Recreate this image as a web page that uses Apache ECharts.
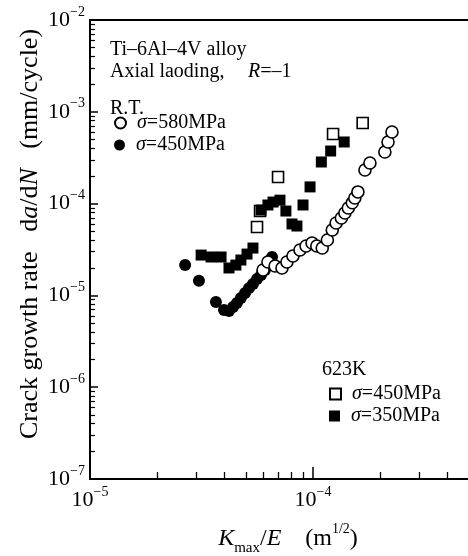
<!DOCTYPE html>
<html><head><meta charset="utf-8">
<script src="https://cdn.jsdelivr.net/npm/echarts@6/dist/echarts.min.js"></script>
<style>html,body{margin:0;padding:0;background:#fff}#c{width:468px;height:556px}</style>
</head><body><div id="c"></div>
<script>
const FONT = "'Liberation Serif','Times New Roman',serif";

// R.T., sigma = 580 MPa (open circles)
const rt580K = [5.97e-5, 6.28e-5, 6.76e-5, 7.26e-5, 7.64e-5, 8.13e-5, 8.74e-5, 9.31e-5, 9.90e-5, 1.04e-4, 1.10e-4, 1.16e-4, 1.22e-4, 1.27e-4, 1.34e-4, 1.39e-4, 1.44e-4, 1.50e-4, 1.54e-4, 1.59e-4, 1.71e-4, 1.80e-4, 2.10e-4, 2.17e-4, 2.26e-4];
const rt580Rate = [1.89e-5, 2.31e-5, 2.09e-5, 1.99e-5, 2.31e-5, 2.69e-5, 3.12e-5, 3.45e-5, 3.72e-5, 3.45e-5, 3.28e-5, 4.01e-5, 5.16e-5, 6.15e-5, 6.97e-5, 7.90e-5, 8.96e-5, 1.02e-4, 1.15e-4, 1.34e-4, 2.32e-4, 2.77e-4, 3.65e-4, 4.69e-4, 6.03e-4];

// R.T., sigma = 450 MPa (filled circles)
const rt450K = [2.67e-5, 3.08e-5, 3.67e-5, 3.99e-5, 4.20e-5, 4.38e-5, 4.56e-5, 4.75e-5, 4.96e-5, 5.16e-5, 5.38e-5, 5.61e-5, 5.85e-5, 6.09e-5, 6.55e-5];
const rt450Rate = [2.14e-5, 1.44e-5, 8.47e-6, 6.93e-6, 6.76e-6, 7.48e-6, 8.26e-6, 9.37e-6, 1.06e-5, 1.20e-5, 1.33e-5, 1.51e-5, 1.67e-5, 1.89e-5, 2.62e-5];

// 623K, sigma = 450 MPa (open squares)
const hot450K = [5.61e-5, 5.79e-5, 6.97e-5, 1.23e-4, 1.67e-4];
const hot450Rate = [5.56e-5, 8.30e-5, 1.95e-4, 5.73e-4, 7.55e-4];

// 623K, sigma = 350 MPa (filled squares)
const hot350K = [3.15e-5, 3.49e-5, 3.87e-5, 4.20e-5, 4.51e-5, 4.75e-5, 5.06e-5, 5.38e-5, 5.85e-5, 6.28e-5, 6.62e-5, 7.11e-5, 7.56e-5, 8.05e-5, 8.47e-5, 9.02e-5, 9.70e-5, 1.09e-4, 1.20e-4, 1.38e-4];
const hot350Rate = [2.75e-5, 2.62e-5, 2.62e-5, 1.99e-5, 2.14e-5, 2.43e-5, 2.82e-5, 3.28e-5, 8.51e-5, 9.66e-5, 1.04e-4, 1.09e-4, 8.30e-5, 6.00e-5, 5.70e-5, 9.66e-5, 1.52e-4, 2.84e-4, 3.74e-4, 4.69e-4];

const xMajor = [1e-5, 1e-4, 1e-3];
const yMajor = [1e-7, 1e-6, 1e-5, 1e-4, 1e-3, 1e-2];
const legendText = {
  rt580: '{i|σ}{n|=580MPa}',
  rt450: '{i|σ}{n|=450MPa}',
  hot450: '{i|σ}{n|=450MPa}',
  hot350: '{i|σ}{n|=350MPa}'
};

function minors(majors) {
  const out = [];
  for (let d = 0; d < majors.length - 1; d++)
    for (let m = 2; m <= 9; m++) out.push(m * majors[d]);
  return out;
}
const zip = (a, b) => a.map((v, i) => [v, b[i]]);
const expLabel = v => '{b|10}{e|−' + Math.abs(Math.round(Math.log10(v))) + '}';
const tickRich = {
  b: {fontFamily: FONT, fontSize: 22, color: '#000', lineHeight: 30},
  e: {fontFamily: FONT, fontSize: 14, color: '#000', verticalAlign: 'top', lineHeight: 16}
};
const txtRich = {
  n: {fontFamily: FONT, fontSize: 20, color: '#000'},
  i: {fontFamily: FONT, fontSize: 20, color: '#000', fontStyle: 'italic'}
};

const chart = echarts.init(document.getElementById('c'));
const open = {color: '#fff', borderColor: '#000', borderWidth: 1.6, opacity: 1};
const fill = {color: '#000', borderColor: '#000', borderWidth: 0, opacity: 1};

function legendAt(name, left, top) {
  return {
    data: [name], left: left, top: top, orient: 'vertical', padding: 0,
    itemWidth: 11, itemHeight: 11, selectedMode: false,
    formatter: n => legendText[n],
    textStyle: {fontFamily: FONT, fontSize: 20, color: '#000', padding: [0, 0, 0, 6], rich: txtRich}
  };
}

chart.setOption({
  backgroundColor: '#fff',
  animation: false,
  grid: {left: 90, top: 20, width: 446, height: 459, outerBoundsMode: 'none', containLabel: false,
         show: true, borderColor: '#000', borderWidth: 2, backgroundColor: 'transparent'},
  xAxis: [
    {type: 'log', logBase: 10, min: 1e-5, max: 1e-3, position: 'bottom',
     axisLine: {show: true, lineStyle: {color: '#000', width: 2}},
     axisTick: {show: true, inside: true, length: 12, customValues: xMajor, lineStyle: {color: '#000', width: 1.5}},
     axisLabel: {show: true, margin: 6, customValues: xMajor, formatter: expLabel, rich: tickRich},
     splitLine: {show: false}},
    {type: 'log', logBase: 10, min: 1e-5, max: 1e-3, position: 'bottom',
     axisLine: {show: false},
     axisTick: {show: true, inside: true, length: 7, customValues: minors(xMajor), lineStyle: {color: '#000', width: 1.3}},
     axisLabel: {show: false}, splitLine: {show: false}}
  ],
  yAxis: [
    {type: 'log', logBase: 10, min: 1e-7, max: 1e-2, position: 'left',
     axisLine: {show: true, lineStyle: {color: '#000', width: 2}},
     axisTick: {show: true, inside: true, length: 8, customValues: yMajor, lineStyle: {color: '#000', width: 1.5}},
     axisLabel: {show: true, margin: 5, customValues: yMajor, formatter: expLabel, rich: tickRich},
     splitLine: {show: false}},
    {type: 'log', logBase: 10, min: 1e-7, max: 1e-2, position: 'left',
     axisLine: {show: false},
     axisTick: {show: true, inside: true, length: 5, customValues: minors(yMajor), lineStyle: {color: '#000', width: 1.2}},
     axisLabel: {show: false}, splitLine: {show: false}}
  ],
  legend: [
    legendAt('rt580', 114, 113),
    legendAt('rt450', 114, 135),
    legendAt('hot450', 329, 384),
    legendAt('hot350', 329, 406)
  ],
  series: [
    {name: 'rt450', type: 'scatter', symbol: 'circle', symbolSize: 12, itemStyle: fill, data: zip(rt450K, rt450Rate)},
    {name: 'rt580', type: 'scatter', symbol: 'circle', symbolSize: 12, itemStyle: open, data: zip(rt580K, rt580Rate)},
    {name: 'hot450', type: 'scatter', symbol: 'rect', symbolSize: 11, itemStyle: open, data: zip(hot450K, hot450Rate)},
    {name: 'hot350', type: 'scatter', symbol: 'rect', symbolSize: 11, itemStyle: fill, data: zip(hot350K, hot350Rate)}
  ],
  graphic: [
    {type: 'text', left: 110, top: 40, style: {text: '{n|Ti–6Al–4V alloy}', rich: txtRich}},
    {type: 'text', left: 110, top: 62, style: {text: '{n|Axial laoding,}', rich: txtRich}},
    {type: 'text', left: 248, top: 62, style: {text: '{i|R}{n|=–1}', rich: txtRich}},
    {type: 'text', left: 110, top: 99, style: {text: '{n|R.T.}', rich: txtRich}},
    {type: 'text', left: 322, top: 360, style: {text: '{n|623K}', rich: txtRich}},
    {type: 'text', x: 30, y: 234, rotation: Math.PI / 2,
     style: {text: '{n|Crack growth rate   d}{i|a}{n|/d}{i|N}{n|   (mm/cycle)}', align: 'center', verticalAlign: 'middle',
       rich: {n: {fontFamily: FONT, fontSize: 26, color: '#000'}, i: {fontFamily: FONT, fontSize: 26, color: '#000', fontStyle: 'italic'}}}},
    {type: 'text', x: 288, y: 539,
     style: {text: '{i|K}{s|max}{n|/}{i|E}{n|    (m}{p|1/2}{n|)}', align: 'center', verticalAlign: 'middle',
       rich: {
         n: {fontFamily: FONT, fontSize: 24, color: '#000', lineHeight: 34},
         i: {fontFamily: FONT, fontSize: 24, color: '#000', fontStyle: 'italic', lineHeight: 34},
         s: {fontFamily: FONT, fontSize: 15, color: '#000', verticalAlign: 'bottom', lineHeight: 15},
         p: {fontFamily: FONT, fontSize: 14, color: '#000', verticalAlign: 'top', lineHeight: 15}
       }}}
  ]
});
</script></body></html>
